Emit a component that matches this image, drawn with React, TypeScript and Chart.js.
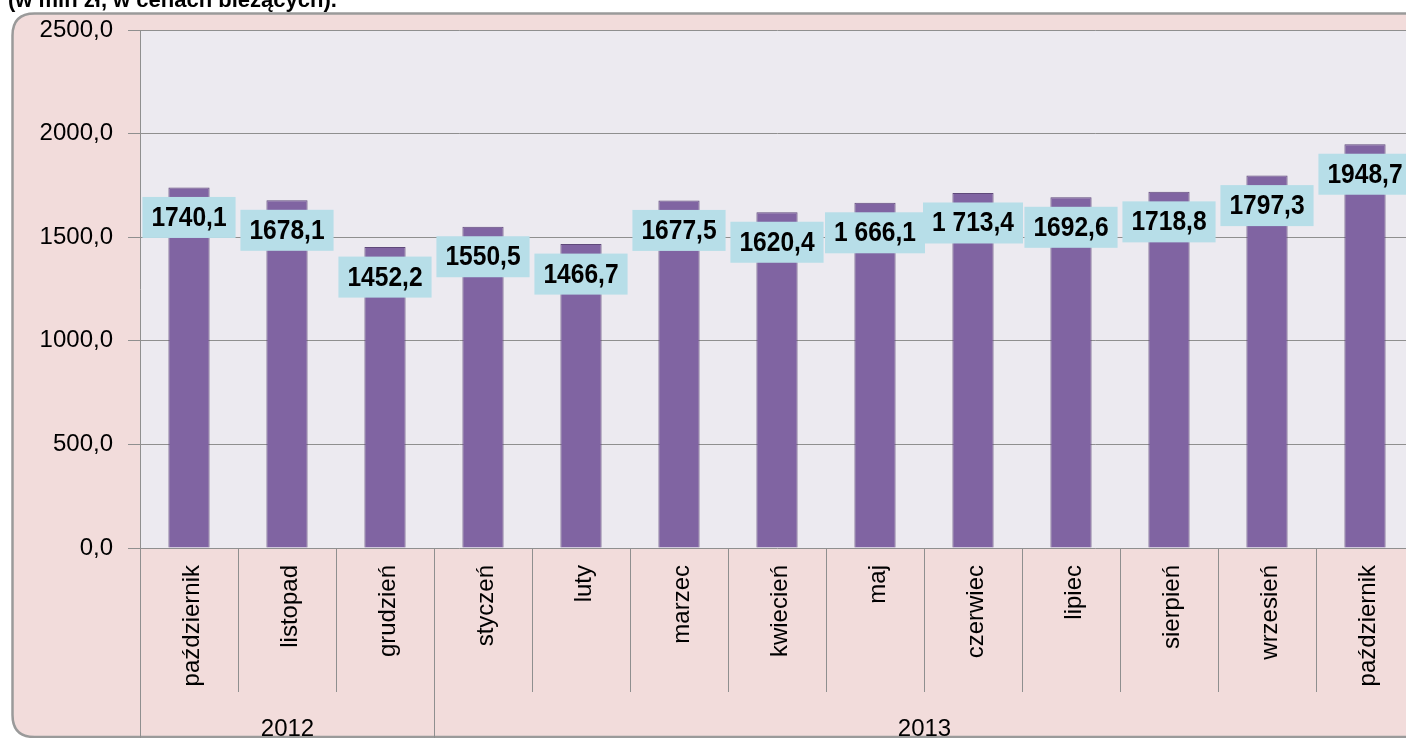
import React, { useEffect, useRef } from "react";
import { Chart, registerables } from "chart.js";

Chart.register(...registerables);

const months: string[] = [
  "październik", "listopad", "grudzień", "styczeń", "luty", "marzec", "kwiecień",
  "maj", "czerwiec", "lipiec", "sierpień", "wrzesień", "październik",
];
const values: number[] = [
  1740.1, 1678.1, 1452.2, 1550.5, 1466.7, 1677.5, 1620.4, 1666.1, 1713.4, 1692.6, 1718.8, 1797.3, 1948.7,
];
const valueLabels: string[] = [
  "1740,1", "1678,1", "1452,2", "1550,5", "1466,7", "1677,5", "1620,4", "1 666,1", "1 713,4", "1692,6", "1718,8", "1797,3", "1948,7",
];
const years: string[] = ["2012", "2013"];
const yearStarts: number[] = [0, 3];
const yTicks: number[] = [0, 500, 1000, 1500, 2000, 2500];
const title = "(w mln zł, w cenach bieżących).";

const FONT = '"Liberation Sans", Arial, sans-serif';
const GRID = "#8f8f8f";

export default function App() {
  const ref = useRef<HTMLCanvasElement | null>(null);

  useEffect(() => {
    const canvas = ref.current;
    if (!canvas) return;

    const bgPlugin = {
      id: "bg",
      beforeDraw(chart: any) {
        const { ctx, chartArea } = chart;
        ctx.save();
        const x0 = 12.5, y0 = 13.5, x1 = 1500, y1 = 737, r = 22;
        ctx.beginPath();
        ctx.moveTo(x0 + r, y0);
        ctx.lineTo(x1, y0);
        ctx.lineTo(x1, y1);
        ctx.lineTo(x0 + r, y1);
        ctx.quadraticCurveTo(x0, y1, x0, y1 - r);
        ctx.lineTo(x0, y0 + r);
        ctx.quadraticCurveTo(x0, y0, x0 + r, y0);
        ctx.closePath();
        ctx.fillStyle = "#F2DCDB";
        ctx.fill();
        ctx.lineWidth = 2.5;
        ctx.strokeStyle = "#9a9a9a";
        ctx.stroke();
        ctx.fillStyle = "#ECEAF0";
        ctx.fillRect(chartArea.left, chartArea.top, chartArea.right - chartArea.left, chartArea.bottom - chartArea.top);
        ctx.fillStyle = "#000";
        ctx.font = `bold 22px ${FONT}`;
        ctx.textBaseline = "alphabetic";
        ctx.textAlign = "left";
        ctx.fillText(title, 8, 7);
        ctx.restore();
      },
    };

    const labelPlugin = {
      id: "vlabels",
      afterDraw(chart: any) {
        const { ctx, chartArea } = chart;
        const xs = chart.scales.x;
        ctx.save();
        const n = months.length;
        const bounds: number[] = [];
        for (let i = 0; i <= n; i++) {
          let x: number;
          if (i === 0) x = chartArea.left;
          else if (i === n) x = chartArea.right;
          else x = (xs.getPixelForValue(i - 1) + xs.getPixelForValue(i)) / 2;
          bounds.push(Math.round(x) + 0.5);
        }
        ctx.strokeStyle = GRID;
        ctx.lineWidth = 1;
        for (let i = 0; i <= n; i++) {
          const isYear = yearStarts.includes(i) || i === n;
          ctx.beginPath();
          ctx.moveTo(bounds[i], chartArea.bottom);
          ctx.lineTo(bounds[i], isYear ? chart.height : 692);
          ctx.stroke();
        }
        ctx.fillStyle = "#000";
        ctx.font = `24px ${FONT}`;
        ctx.textAlign = "center";
        ctx.textBaseline = "alphabetic";
        years.forEach((yr, k) => {
          const s = yearStarts[k];
          const e = k + 1 < yearStarts.length ? yearStarts[k + 1] : n;
          ctx.fillText(yr, (bounds[s] + bounds[e]) / 2, 736);
        });
        const meta = chart.getDatasetMeta(0);
        ctx.font = `bold 27px ${FONT}`;
        meta.data.forEach((bar: any, i: number) => {
          const txt = valueLabels[i];
          const sx = 0.91;
          const tw = ctx.measureText(txt).width * sx;
          const w = tw + 18;
          const h = 41;
          const cy = bar.y + 30;
          ctx.fillStyle = "#B7DEE8";
          ctx.fillRect(bar.x - w / 2, cy - h / 2, w, h);
          ctx.save();
          ctx.translate(bar.x, cy + 1);
          ctx.scale(sx, 1);
          ctx.fillStyle = "#000";
          ctx.textAlign = "center";
          ctx.textBaseline = "middle";
          ctx.fillText(txt, 0, 0);
          ctx.restore();
        });
        ctx.restore();
      },
    };

    const chart = new Chart(canvas, {
      type: "bar",
      data: {
        labels: months,
        datasets: [
          {
            data: values,
            backgroundColor: "#8064A2",
            borderColor: "#5F497A",
            borderWidth: 1,
            barPercentage: 0.42,
            categoryPercentage: 1,
          },
        ],
      },
      options: {
        responsive: false,
        animation: false,
        devicePixelRatio: 1,
        layout: { padding: { top: 30, left: 0, right: 6, bottom: 0 } },
        plugins: { legend: { display: false }, tooltip: { enabled: false } },
        scales: {
          x: {
            grid: { display: false },
            border: { display: false },
            ticks: {
              minRotation: 90,
              maxRotation: 90,
              autoSkip: false,
              padding: 9,
              labelOffset: 3,
              color: "#000",
              font: { family: FONT, size: 24 },
            },
            afterFit: (s: any) => {
              s.height = 190;
            },
          },
          y: {
            min: 0,
            max: 2500,
            afterBuildTicks: (s: any) => {
              s.ticks = yTicks.map((v) => ({ value: v }));
            },
            ticks: {
              padding: 15,
              color: "#000",
              font: { family: FONT, size: 24 },
              callback: (v: any) => Number(v).toFixed(1).replace(".", ","),
            },
            grid: { color: GRID, tickLength: 12, tickColor: GRID },
            border: { color: GRID },
            afterFit: (s: any) => {
              s.width = 140;
            },
          },
        },
      },
      plugins: [bgPlugin, labelPlugin],
    } as any);

    return () => chart.destroy();
  }, []);

  return (
    <div style={{ position: "fixed", left: 0, top: 0, width: 1406, height: 738, overflow: "hidden", background: "#fff" }}>
      <canvas ref={ref} width={1420} height={738} style={{ display: "block", width: 1420, height: 738 }} />
    </div>
  );
}
